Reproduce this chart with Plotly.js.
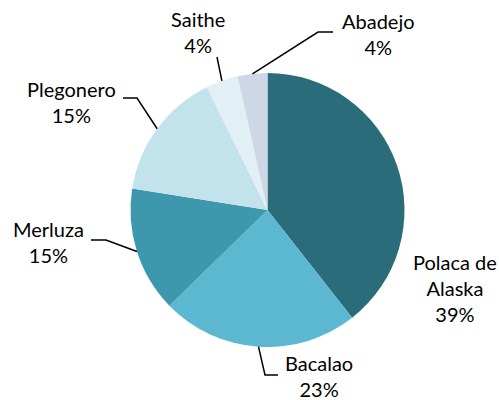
<!DOCTYPE html>
<html>
<head>
<meta charset="utf-8">
<script src="https://cdn.plot.ly/plotly-3.0.1.min.js"></script>
<style>html,body{margin:0;padding:0;background:#fff;}#chart{width:499px;height:400px;}</style>
</head>
<body>
<div id="chart"></div>
<script>
// ---- data ----
var categories = ["Polaca de Alaska", "Bacalao", "Merluza", "Plegonero", "Saithe", "Abadejo"];
var labelLines = ["Polaca de<br>Alaska", "Bacalao", "Merluza", "Plegonero", "Saithe", "Abadejo"];
var values = [39.4, 23.3, 14.8, 15.2, 3.8, 3.5];
var percentLabels = ["39%", "23%", "15%", "15%", "4%", "4%"];
var colors = ["#2b6c7b", "#5bb8d0", "#3d97ad", "#c3e3ec", "#e1f0f5", "#cdd7e6"];

// ---- layout (pixels) ----
var W = 499, H = 400;
var cx = 267.5, cy = 210, R = 137;
// label centers and leader-line elbows (null = no line)
var labelPos = [[455, 288], [319, 376], [48, 242], [71, 102], [198, 32], [378, 34]];
var elbows = [null, [[265, 375], [278, 375]], [[106, 240], [91, 240]], [[137, 98], [123, 98]], [[217, 57]], [[318, 32], [333, 32]]];

function px2x(p) { return p / W; }
function px2y(p) { return 1 - p / H; }

var total = values.reduce(function (a, b) { return a + b; }, 0);
var shapes = [], annotations = [];
var cum = 0;
for (var i = 0; i < values.length; i++) {
  var mid = (cum + values[i] / 2) / total * 2 * Math.PI;
  cum += values[i];
  var ex = cx + R * Math.sin(mid), ey = cy - R * Math.cos(mid);
  if (elbows[i]) {
    var pts = [[ex, ey]].concat(elbows[i]);
    var path = "M" + pts.map(function (p) { return px2x(p[0]) + "," + px2y(p[1]); }).join(" L");
    shapes.push({type: "path", xref: "paper", yref: "paper", path: path,
      line: {color: "#000000", width: 1.5}});
  }
  annotations.push({
    xref: "paper", yref: "paper", x: px2x(labelPos[i][0]), y: px2y(labelPos[i][1]),
    xanchor: "center", yanchor: "middle", showarrow: false, align: "center",
    text: labelLines[i] + "<br>" + percentLabels[i],
    font: {family: "Lato, 'Open Sans', sans-serif", size: 20, color: "#000000"}
  });
}

var trace = {
  type: "pie",
  labels: categories,
  values: values,
  sort: false,
  direction: "clockwise",
  rotation: 0,
  textinfo: "none",
  hoverinfo: "label+percent",
  marker: {colors: colors, line: {width: 0}},
  domain: {x: [(cx - R) / W, (cx + R) / W], y: [1 - (cy + R) / H, 1 - (cy - R) / H]},
  showlegend: false
};

var layout = {
  width: W, height: H,
  margin: {l: 0, r: 0, t: 0, b: 0},
  paper_bgcolor: "#ffffff",
  plot_bgcolor: "#ffffff",
  showlegend: false,
  shapes: shapes,
  annotations: annotations
};

Plotly.newPlot("chart", [trace], layout, {staticPlot: true});
</script>
</body>
</html>
